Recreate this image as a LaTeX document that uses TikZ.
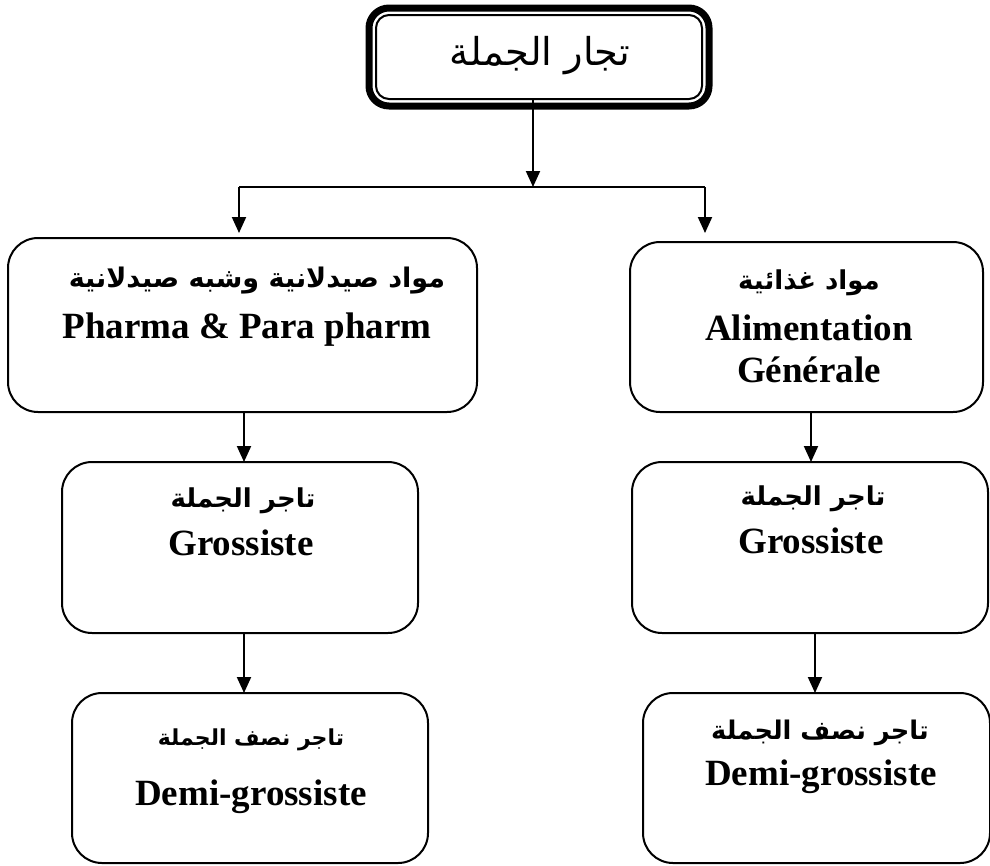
\documentclass[tikz,border=0pt]{standalone}
\usepackage{fontspec}
\setmainfont{Liberation Serif}
\newfontfamily\arabicfont[Script=Arabic]{DejaVu Sans}
\TeXXeTstate=1
\usetikzlibrary{arrows.meta}

\tikzset{
  frame/.style={draw, line width=2pt, rounded corners=30pt, outer sep=0pt, inner sep=0pt},
  arr/.style={line width=2pt, -{Triangle[width=14pt,length=16pt]}},
  link/.style={line width=2pt},
  en/.style={anchor=base, inner sep=0pt, font=\fontsize{37}{42}\selectfont\bfseries},
  ar/.style={anchor=base, inner sep=0pt, font=\arabicfont\bfseries\fontsize{26}{32}\selectfont},
  arwide/.style={anchor=base, inner sep=0pt, font=\arabicfont\bfseries\fontsize{27}{32}\selectfont},
  armid/.style={anchor=base, inner sep=0pt, font=\arabicfont\bfseries\fontsize{25.7}{32}\selectfont},
  arsmall/.style={anchor=base, inner sep=0pt, font=\arabicfont\bfseries\fontsize{22}{28}\selectfont},
  title/.style={anchor=base, inner sep=0pt, font=\arabicfont\fontsize{38.4}{44}\selectfont}
}

\begin{document}
\begin{tikzpicture}[x=1pt,y=-1pt]
\useasboundingbox (0,0) rectangle (990,865);

% head box: thin inner frame inside a heavy outer frame
\node[draw, line width=2pt, rounded corners=13pt, outer sep=0pt, inner sep=0pt,
      minimum width=326pt, minimum height=84pt] (top) at (539,57) {};
\draw[line width=7pt, rounded corners=20pt]
  ([shift={(-7,-7)}]top.north west) rectangle ([shift={(7,7)}]top.south east);
\node[title] (toptxt) at (540,65) {\beginR تجار الجملة\endR};

% second level
\node[frame, minimum width=469pt, minimum height=174pt] (l1) at (242.5,325) {};
\node[frame, minimum width=353pt, minimum height=170pt] (r1) at (806.5,327) {};
% third level
\node[frame, minimum width=356pt, minimum height=171pt] (l2) at (240,547.5) {};
\node[frame, minimum width=356pt, minimum height=171pt] (r2) at (810,547.5) {};
% fourth level
\node[frame, minimum width=356pt, minimum height=170pt] (l3) at (250,778) {};
\node[frame, minimum width=347pt, minimum height=170pt] (r3) at (816.5,778) {};

% labels
\node[arwide] (l1a) at (257,287) {\beginR مواد صيدلانية وشبه صيدلانية\endR};
\node[en] (l1b) at (247,338) {Pharma \& Para pharm};

\node[ar] (r1a) at (809,289) {\beginR مواد غذائية\endR};
\node[en] (r1b) at (809,340) {Alimentation};
\node[en] (r1c) at (809,382) {Générale};

\node[ar] (l2a) at (243,507) {\beginR تاجر الجملة\endR};
\node[en] (l2b) at (241,555) {Grossiste};

\node[ar] (r2a) at (813,505) {\beginR تاجر الجملة\endR};
\node[en] (r2b) at (811,553) {Grossiste};

\node[arsmall] (l3a) at (251,745) {\beginR تاجر نصف الجملة\endR};
\node[en] (l3b) at (251,805) {Demi-grossiste};

\node[armid] (r3a) at (820,739) {\beginR تاجر نصف الجملة\endR};
\node[en] (r3b) at (821,785) {Demi-grossiste};

% connector columns
\coordinate (split) at (533,187);
\coordinate (lsplit) at (239,187);
\coordinate (rsplit) at (705,187);
\coordinate (cl) at (244,0);
\coordinate (cr1) at (811,0);
\coordinate (cr2) at (815,0);

\draw[arr] (top.south -| split) -- (split);
\draw[link] (lsplit) -- (rsplit);
\draw[arr, shorten >=5pt] (lsplit) -- (lsplit |- l1.north);
\draw[arr, shorten >=9pt] (rsplit) -- (rsplit |- r1.north);

\draw[arr] (cl |- l1.south) -- (cl |- l2.north);
\draw[arr] (cl |- l2.south) -- (cl |- l3.north);
\draw[arr] (cr1 |- r1.south) -- (cr1 |- r2.north);
\draw[arr] (cr2 |- r2.south) -- (cr2 |- r3.north);
\end{tikzpicture}
\end{document}
